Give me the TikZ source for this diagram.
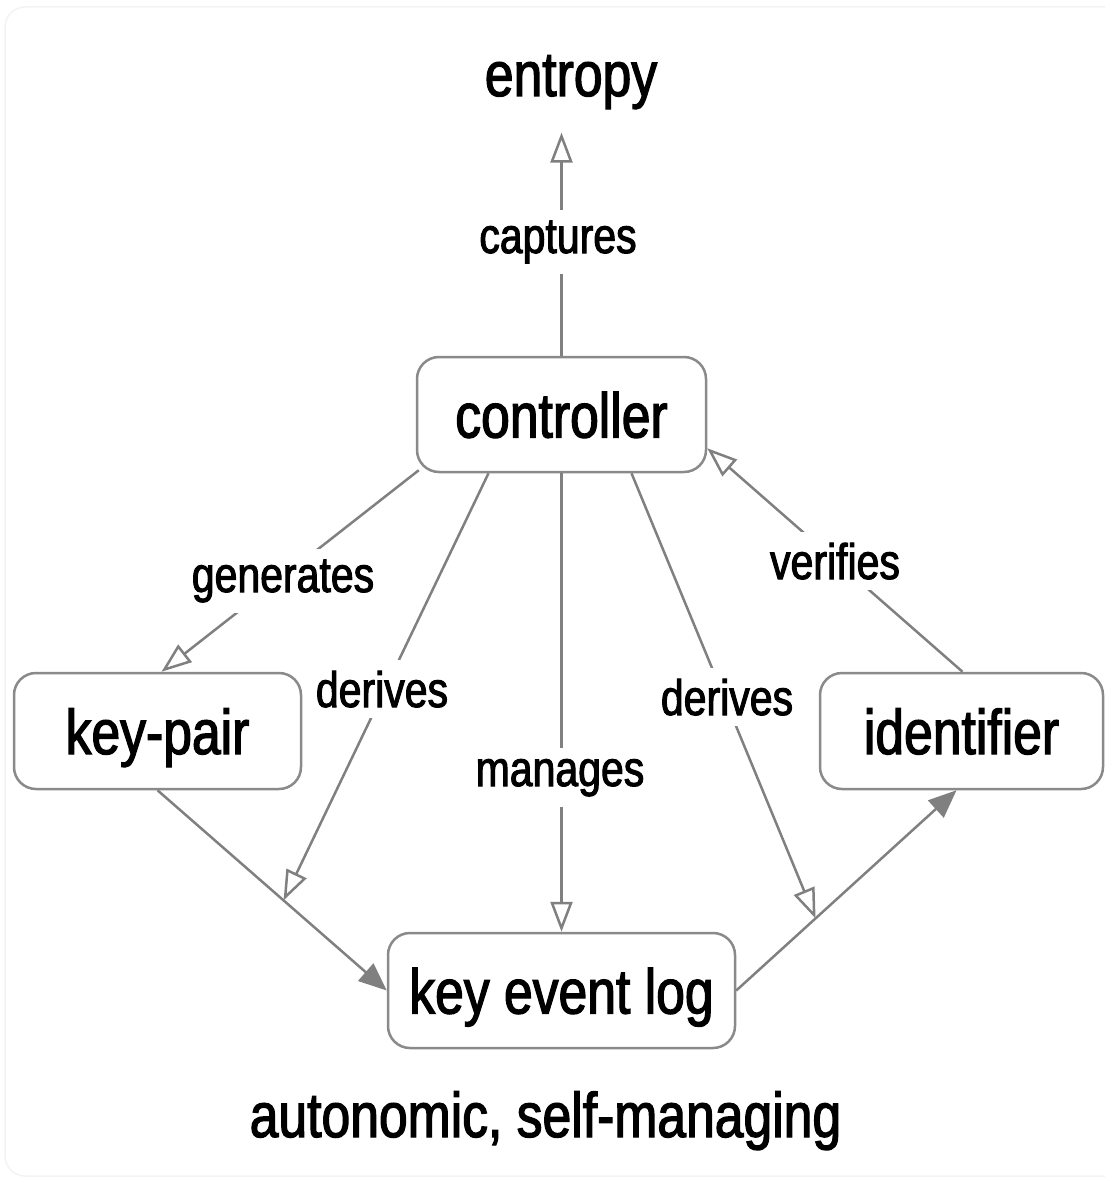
\documentclass[tikz,border=0pt]{standalone}
\usepackage{fontspec}
\setmainfont{Liberation Sans}[FakeStretch=0.82, FakeBold=2]
\usetikzlibrary{arrows.meta}
\definecolor{edgec}{RGB}{128,128,128}
\definecolor{boxc}{RGB}{138,138,138}
\definecolor{framec}{RGB}{243,243,243}
\tikzset{
  box/.style={draw=boxc, line width=2.5pt, rounded corners=22pt, fill=white,
    font=\fontsize{63}{70}\selectfont, text height=46pt, text depth=0pt, inner sep=0pt},
  big/.style={font=\fontsize{63}{70}\selectfont},
  lab/.style={fill=white, font=\fontsize{50}{56}\selectfont, inner xsep=6pt, inner ysep=11pt, anchor=base},
  conn/.style={draw=edgec, line width=2.5pt},
  opentip/.style={-{Triangle[open, length=30pt, width=22pt, fill=white]}},
  filltip/.style={-{Triangle[length=28pt, width=23pt]}},
}
\begin{document}
\begin{tikzpicture}[x=1pt,y=-1pt]
\useasboundingbox (0,0) rectangle (1105,1180);
\draw[framec, line width=1.5pt, rounded corners=20pt] (5,7) rectangle (1140,1176);

\node[big, anchor=base] (ent) at (571,96) {entropy};
\node[box, minimum width=289pt, minimum height=115pt] (ctrl) at (561.5,414.5) {controller};
\node[box, minimum width=287pt, minimum height=116pt] (kp) at (157.5,731) {key-pair};
\node[box, minimum width=283pt, minimum height=116pt] (id) at (961.5,731) {identifier};
\node[box, minimum width=347pt, minimum height=115pt] (kel) at (561.5,990.5) {key event log};
\node[big, anchor=base] (caption) at (545.5,1137) {autonomic, self-managing};

% connectors
\draw[conn, filltip] (kp.south) -- coordinate[pos=0.55] (dl) (kel.west);
\draw[conn, filltip] (kel.east) -- coordinate[pos=0.36] (dr) ([xshift=-5pt]id.south);
\draw[conn, opentip] (ctrl.north) -- ([yshift=-20pt]ctrl.north |- ent.south);
\draw[conn, opentip] ([shift={(3pt,3pt)}]ctrl.south west) -- ([xshift=4pt]kp.north);
\draw[conn, opentip] ([xshift=-73pt]ctrl.south) -- (dl);
\draw[conn, opentip] (ctrl.south) -- (kel.north);
\draw[conn, opentip] ([xshift=70pt]ctrl.south) -- (dr);
\draw[conn, opentip] ([xshift=1pt]id.north) -- ([yshift=25pt]ctrl.south east);

% labels
\node[lab] (lcap) at (558,253) {captures};
\node[lab] (lgen) at (283,592) {generates};
\node[lab] (lder1) at (382,707) {derives};
\node[lab] (lman) at (560,786) {manages};
\node[lab] (lder2) at (727,715) {derives};
\node[lab] (lver) at (835,579) {verifies};
\end{tikzpicture}
\end{document}
